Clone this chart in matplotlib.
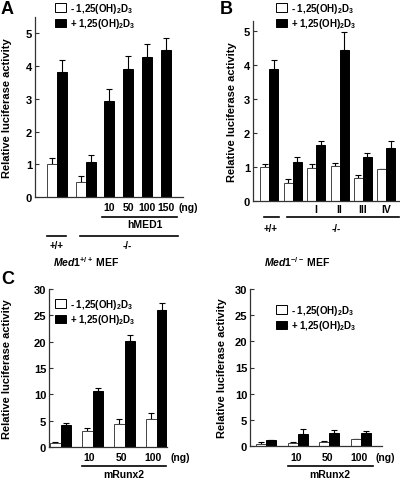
import numpy as np
import matplotlib
matplotlib.use("Agg")
import matplotlib.pyplot as plt
from matplotlib.patches import Patch
from matplotlib.transforms import blended_transform_factory

plt.rcParams['font.family'] = ['Liberation Sans', 'DejaVu Sans']
plt.rcParams['font.weight'] = 'bold'
plt.rcParams['mathtext.fontset'] = 'custom'
plt.rcParams['mathtext.rm'] = 'Liberation Sans:bold'
plt.rcParams['mathtext.it'] = 'Liberation Sans:italic:bold'
plt.rcParams['mathtext.bf'] = 'Liberation Sans:bold'
plt.rcParams['mathtext.default'] = 'rm'

# ---------------- data ----------------
# Panel A
a_geno = ['+/+', '-/-']
a_doses = ['10', '50', '100', '150']
a_minus = [1.02, 0.46]
a_minus_err = [0.18, 0.17]
a_plus = [3.81, 1.07, 2.92, 3.90, 4.27, 4.48]
a_plus_err = [0.39, 0.20, 0.39, 0.42, 0.39, 0.39]

# Panel B
b_labels = ['', '', 'I', 'II', 'III', 'IV']
b_geno = ['+/+', '-/-']
b_minus = [1.00, 0.54, 0.98, 1.02, 0.69, 0.93]
b_minus_err = [0.10, 0.10, 0.10, 0.09, 0.09, 0.01]
b_plus = [3.89, 1.15, 1.64, 4.46, 1.31, 1.55]
b_plus_err = [0.25, 0.15, 0.13, 0.51, 0.10, 0.22]

# Panel C
c_doses = ['', '10', '50', '100']
c1_minus = [0.8, 2.97, 4.4, 5.4]
c1_minus_err = [0.2, 0.7, 1.0, 1.1]
c1_plus = [4.2, 10.6, 20.2, 26.1]
c1_plus_err = [0.4, 0.6, 1.0, 1.2]
c2_minus = [0.45, 0.64, 0.83, 1.27]
c2_minus_err = [0.3, 0.2, 0.17, 0.05]
c2_plus = [1.08, 2.35, 2.55, 2.55]
c2_plus_err = [0.07, 0.85, 0.55, 0.25]

lab_minus = r'- 1,25(OH)$_2$D$_3$'
lab_plus = r'+ 1,25(OH)$_2$D$_3$'
ylab = 'Relative luciferase activity'

W, H = 400, 481
fig = plt.figure(figsize=(W / 100, H / 100), dpi=100)

TICK_FS = 8
YLAB_FS = 8


def add_ax(left, top, right, bottom):
    return fig.add_axes([left / W, 1 - bottom / H, (right - left) / W, (bottom - top) / H])


def fy(ypx):
    return 1 - ypx / H


def style(ax, ticks):
    for s in ['top', 'right']:
        ax.spines[s].set_visible(False)
    for s in ['left', 'bottom']:
        ax.spines[s].set_color('#333333')
        ax.spines[s].set_linewidth(0.9)
    ax.set_xticks([])
    ax.set_yticks(ticks)
    ax.tick_params(axis='y', direction='in', length=3, width=0.8, labelsize=TICK_FS, pad=2,
                   color='#333333')


def bars(ax, x, vals, errs, white, width=1.0):
    x = np.asarray(x, float)
    if white:
        ax.bar(x, vals, width=width, color='white', edgecolor='#444444', linewidth=0.7, zorder=2)
    else:
        ax.bar(x, vals, width=width, color='black', edgecolor='black', linewidth=0.7, zorder=2)
    ax.errorbar(x, vals, yerr=[np.zeros(len(vals)), errs], fmt='none', ecolor='black',
                elinewidth=0.8, capsize=2.2, capthick=0.8, zorder=1)


def legend(ax, x_px, y_px, fs):
    h = [Patch(facecolor='white', edgecolor='black', linewidth=0.7),
         Patch(facecolor='black', edgecolor='black', linewidth=0.7)]
    ax.legend(h, [lab_minus, lab_plus], loc='upper left', frameon=False,
              bbox_to_anchor=(x_px / W, fy(y_px)), bbox_transform=fig.transFigure,
              borderpad=0, borderaxespad=0, handlelength=1.1, handleheight=1.0,
              handletextpad=0.4, labelspacing=0.15, fontsize=fs)


def hline(ax, x0, x1, ypx, lw=1.2):
    tr = blended_transform_factory(ax.transData, fig.transFigure)
    ax.plot([x0, x1], [fy(ypx), fy(ypx)], color='black', lw=lw, transform=tr, clip_on=False)


def label(ax, x, ypx, s, fs, ha='center'):
    tr = blended_transform_factory(ax.transData, fig.transFigure)
    ax.text(x, fy(ypx), s, transform=tr, ha=ha, va='center', fontsize=fs, fontweight='bold')


# ---------------- Panel A ----------------
axA = add_ax(35, 18, 183, 198)
axA.set_xlim(0, 14.8)
axA.set_ylim(0, 5.5)
style(axA, range(6))
pair_c = 2.2 + 2.9 * np.arange(len(a_minus))
single_c = 7.45 + 1.87 * np.arange(len(a_doses))
bars(axA, pair_c - 0.5, a_minus, a_minus_err, True)
plus_x = np.concatenate([pair_c + 0.5, single_c])
bars(axA, plus_x, a_plus, a_plus_err, False)
for xc, d in zip(single_c, a_doses):
    label(axA, xc, 208, d, 7.5)
label(axA, 14.4, 208, '(ng)', 7.5, ha='left')
hline(axA, single_c[0] - 0.7, single_c[-1] + 1.1, 218)
label(axA, (single_c[0] + single_c[-1]) / 2 + 0.7, 225, 'hMED1', 7.5)
hline(axA, pair_c[0] - 1.0, pair_c[0] + 0.9, 237)
hline(axA, pair_c[1] - 0.6, single_c[-1] + 1.2, 237)
label(axA, pair_c[0], 246, a_geno[0], 7)
label(axA, 9.2, 246, a_geno[1], 7)
axA.set_ylabel(ylab, fontsize=YLAB_FS, fontweight='bold')
axA.yaxis.set_label_coords((12 - 35) / 148, 0.5)
legend(axA, 55, 2, 7)
fig.text(1 / W, fy(1), 'A', fontsize=13, fontweight='bold', ha='left', va='top')

# ---------------- Panel B ----------------
axB = add_ax(253, 22, 400, 202)
axB.set_xlim(0, 16.33)
axB.set_ylim(0, 5.3)
style(axB, range(6))
bc = 1.81 + 2.6 * np.arange(len(b_minus))
bars(axB, bc - 0.5, b_minus, b_minus_err, True)
bars(axB, bc + 0.5, b_plus, b_plus_err, False)
for xc, s in zip(bc, b_labels):
    if s:
        label(axB, xc, 210, s, 7.5)
hline(axB, bc[0] - 0.6, bc[0] + 1.1, 218)
hline(axB, bc[1] - 0.6, 16.2, 218)
label(axB, bc[0] + 0.2, 229, b_geno[0], 7)
label(axB, 9.3, 229, b_geno[1], 7)
axB.set_ylabel(ylab, fontsize=YLAB_FS, fontweight='bold')
axB.yaxis.set_label_coords((237 - 253) / 147, 0.5)
legend(axB, 276, 2, 7)
fig.text(220 / W, fy(1), 'B', fontsize=13, fontweight='bold', ha='left', va='top')

# ---------------- Panel C (left) ----------------
axC1 = add_ax(49, 290, 167, 448)
axC1.set_xlim(0, 11.46)
axC1.set_ylim(0, 30)
style(axC1, range(0, 31, 5))
cc1 = 1.12 + 3.11 * np.arange(len(c1_minus))
bars(axC1, cc1 - 0.5, c1_minus, c1_minus_err, True)
bars(axC1, cc1 + 0.5, c1_plus, c1_plus_err, False)
for xc, d in zip(cc1, c_doses):
    if d:
        label(axC1, xc - 0.35, 458, d, 7.5)
label(axC1, 11.8, 458, '(ng)', 7.5, ha='left')
hline(axC1, cc1[1] - 1.05, cc1[-1] + 0.9, 467)
label(axC1, (cc1[1] + cc1[-1]) / 2 - 0.1, 475, 'mRunx2', 7.5)
axC1.set_ylabel(ylab, fontsize=YLAB_FS, fontweight='bold')
axC1.yaxis.set_label_coords((12 - 49) / 118, 0.5)
legend(axC1, 55, 298, 7)
fig.text(86 / W, fy(262), r'$\mathit{Med1}^{+/+}$ MEF', ha='center', va='center', fontsize=7.5)
fig.text(1 / W, fy(271), 'C', fontsize=13, fontweight='bold', ha='left', va='top')

# ---------------- Panel C (right) ----------------
axC2 = add_ax(250, 290, 382, 447)
axC2.set_xlim(0, 13.2)
axC2.set_ylim(0, 30)
style(axC2, range(0, 31, 5))
cc2 = 1.6 + 3.17 * np.arange(len(c2_minus))
bars(axC2, cc2 - 0.5, c2_minus, c2_minus_err, True)
bars(axC2, cc2 + 0.5, c2_plus, c2_plus_err, False)
for xc, d in zip(cc2, c_doses):
    if d:
        label(axC2, xc - 0.2, 458, d, 7.5)
label(axC2, 12.6, 458, '(ng)', 7.5, ha='left')
hline(axC2, cc2[1] - 1.0, cc2[-1] + 1.2, 467)
label(axC2, (cc2[1] + cc2[-1]) / 2, 475, 'mRunx2', 7.5)
axC2.set_ylabel(ylab, fontsize=YLAB_FS, fontweight='bold')
axC2.yaxis.set_label_coords((227 - 250) / 132, 0.5)
legend(axC2, 276, 304, 7)
fig.text(297 / W, fy(262), r'$\mathit{Med1}^{-/-}$ MEF', ha='center', va='center', fontsize=7.5)

fig.savefig('out.png', dpi=100)
